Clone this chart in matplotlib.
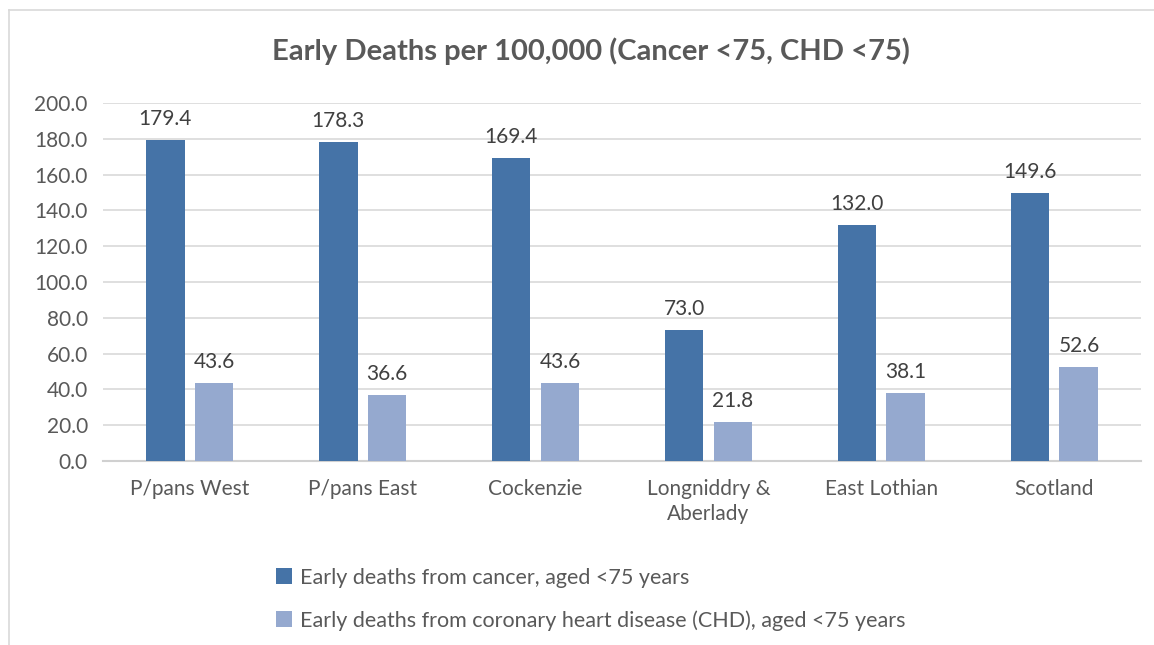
import numpy as np
import matplotlib.pyplot as plt
from matplotlib.lines import Line2D

areas = ['P/pans West', 'P/pans East', 'Cockenzie', 'Longniddry &\nAberlady',
         'East Lothian', 'Scotland']
cancer = [179.4, 178.3, 169.4, 73.0, 132.0, 149.6]
chd = [43.6, 36.6, 43.6, 21.8, 38.1, 52.6]
series_names = ['Early deaths from cancer, aged <75 years',
                'Early deaths from coronary heart disease (CHD), aged <75 years']
yticks = np.arange(0, 201, 20)

plt.rcParams['font.family'] = ['Lato', 'DejaVu Sans']

fig = plt.figure(figsize=(11.54, 6.45), dpi=100)
ax = fig.add_axes([0.0893, 0.2853, 0.8994, 0.555])

x = np.arange(len(areas))
w = 0.225
gap = 0.058
b1 = ax.bar(x - (w + gap) / 2, cancer, w, color='#4573A7', label=series_names[0], zorder=3)
b2 = ax.bar(x + (w + gap) / 2, chd, w, color='#95A9CF', label=series_names[1], zorder=3)

for bars in (b1, b2):
    for r in bars:
        ax.annotate('%.1f' % r.get_height(), (r.get_x() + r.get_width() / 2, r.get_height()),
                    xytext=(0, 8), textcoords='offset points', ha='center', va='bottom',
                    fontsize=15, color='#404040')

ax.set_xlim(-0.5, len(areas) - 0.5)
ax.set_ylim(0, 200)
ax.set_yticks(yticks)
ax.set_yticklabels(['%.1f' % v for v in yticks])
ax.set_xticks(x)
ax.set_xticklabels(areas, linespacing=1.3)
ax.tick_params(axis='both', length=0, labelsize=15, colors='#595959')
ax.tick_params(axis='x', pad=13)
ax.tick_params(axis='y', pad=11)
ax.grid(axis='y', color='#d9d9d9', linewidth=1.2, zorder=0)
for s in ['top', 'right', 'left']:
    ax.spines[s].set_visible(False)
ax.spines['bottom'].set_color('#d0d0d0')
ax.spines['bottom'].set_linewidth(1.5)

fig.text(0.512, 0.92, 'Early Deaths per 100,000 (Cancer <75, CHD <75)', ha='center', va='center',
         fontsize=21, fontweight='bold', color='#595959')

leg = fig.legend(handles=[b1, b2], loc='upper left', bbox_to_anchor=(0.222, 0.15),
                 frameon=False, fontsize=15.5, labelcolor='#595959', handlelength=0.75,
                 handleheight=0.75, handletextpad=0.4, labelspacing=1.05)

# outer chart border (top and left only visible)
fig.add_artist(Line2D([0.008, 1.0], [0.984, 0.984], color='#d9d9d9', linewidth=1.2,
                      transform=fig.transFigure))
fig.add_artist(Line2D([0.008, 0.008], [0.0, 0.984], color='#d9d9d9', linewidth=1.2,
                      transform=fig.transFigure))

fig.savefig('out.png', dpi=100)
